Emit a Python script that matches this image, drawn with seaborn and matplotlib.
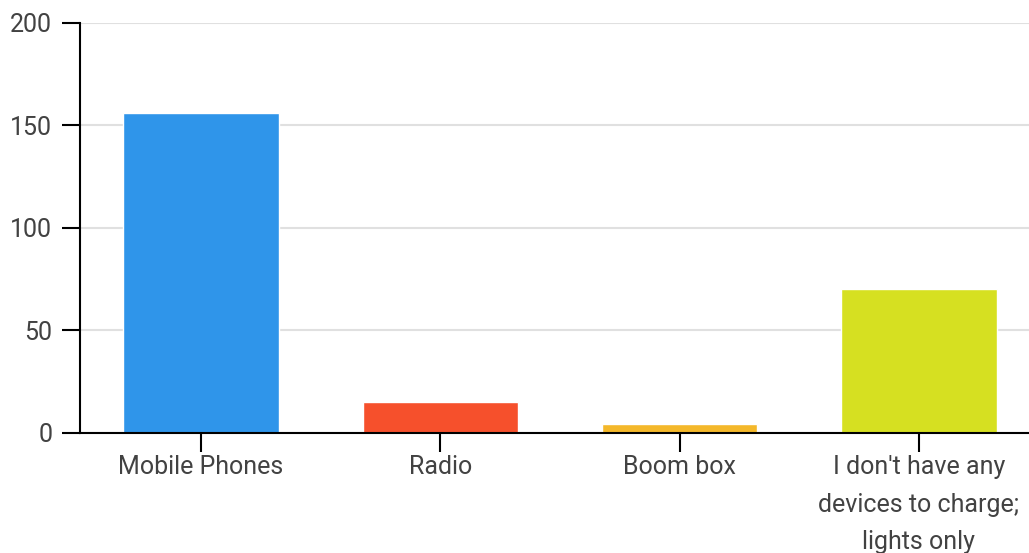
import matplotlib
matplotlib.use("Agg")
import matplotlib.pyplot as plt
import seaborn as sns
import pandas as pd

categories = ["Mobile Phones", "Radio", "Boom box",
              "I don't have any\ndevices to charge;\nlights only"]
values = [156, 15, 4, 70]
colors = ["#2F95EA", "#F6502C", "#F4B82A", "#D6E021"]
yticks = [0, 50, 100, 150, 200]

sns.set_theme(style="white")
plt.rcParams['font.family'] = ['Roboto', 'DejaVu Sans']

W, H = 1029, 553
fig = plt.figure(figsize=(W / 100, H / 100), dpi=100)
ax = fig.add_axes([80 / W, (H - 432.5) / H, (1029 - 80) / W, (432.5 - 22.7) / H])

df = pd.DataFrame({"cat": categories, "val": values})
sns.barplot(data=df, x="cat", y="val", hue="cat", palette=colors,
            width=0.65, ax=ax, legend=False, saturation=1)

ax.set_ylim(0, 200)
ax.set_xlim(-0.506, 3.46)
ax.set_yticks(yticks)
ax.set_yticklabels([str(t) for t in yticks])
ax.set_xlabel("")
ax.set_ylabel("")

ax.yaxis.grid(True, color="#E0E0E0", linewidth=1.5)
ax.set_axisbelow(True)
for s in ["top", "right"]:
    ax.spines[s].set_visible(False)
for s in ["left", "bottom"]:
    ax.spines[s].set_color("black")
    ax.spines[s].set_linewidth(1.5)
    ax.spines[s].set_zorder(5)

ax.tick_params(axis="y", which="both", left=True, length=13, width=1.5,
               color="black", pad=7, labelsize=18, labelcolor="#424242")
ax.tick_params(axis="x", which="both", bottom=True, length=13.5, width=1.5,
               color="black", pad=3, labelsize=18, labelcolor="#424242")
for lab in ax.get_xticklabels():
    lab.set_linespacing(1.7)

fig.savefig("out.png", dpi=100)
